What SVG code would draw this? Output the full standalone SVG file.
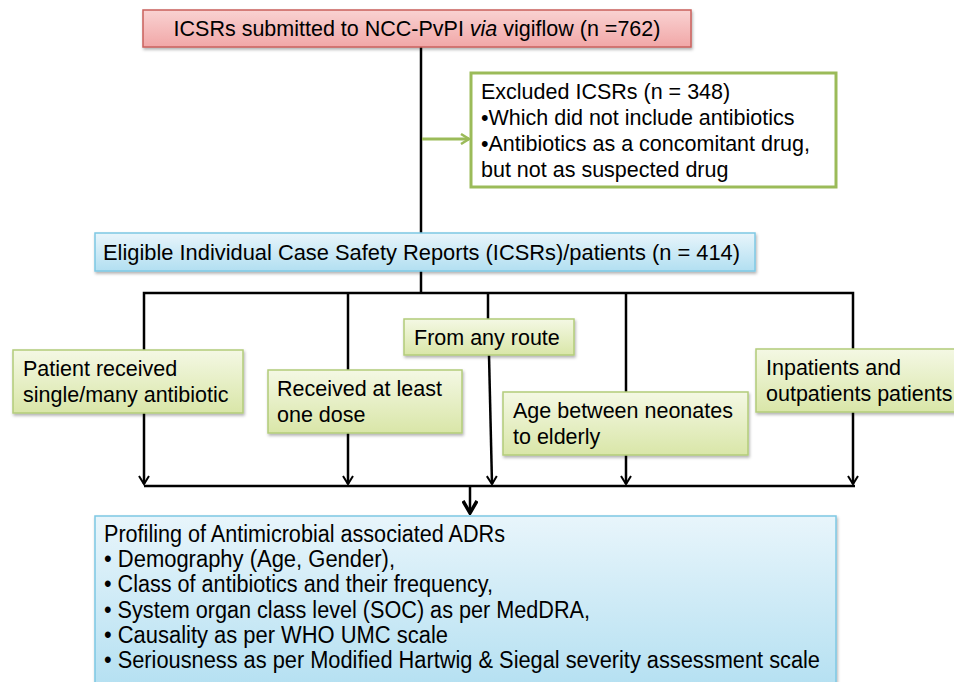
<svg xmlns="http://www.w3.org/2000/svg" width="954" height="682" viewBox="0 0 954 682">
<defs>
<linearGradient id="gPink" x1="0" y1="0" x2="0" y2="1"><stop offset="0" stop-color="#f9d2d2"/><stop offset="1" stop-color="#f1a7a7"/></linearGradient>
<linearGradient id="gGreen" x1="0" y1="0" x2="0" y2="1"><stop offset="0" stop-color="#f4f8e4"/><stop offset="1" stop-color="#d9e6a8"/></linearGradient>
<linearGradient id="gBlue" x1="0" y1="0" x2="0" y2="1"><stop offset="0" stop-color="#e8f5fb"/><stop offset="1" stop-color="#b2dff1"/></linearGradient>
<filter id="sh" x="-5%" y="-10%" width="110%" height="130%"><feDropShadow dx="1" dy="2" stdDeviation="1.5" flood-color="#000" flood-opacity="0.3"/></filter>
<marker id="ah" viewBox="0 0 12 12" refX="10" refY="6" markerWidth="12" markerHeight="12" markerUnits="userSpaceOnUse" orient="auto"><path d="M2,1 L10,6 L2,11" fill="none" stroke="#000" stroke-width="2"/></marker>
<marker id="ahBig" viewBox="0 0 16 16" refX="14" refY="8" markerWidth="16" markerHeight="16" markerUnits="userSpaceOnUse" orient="auto"><path d="M2,1 L14,8 L2,15" fill="none" stroke="#000" stroke-width="3.5"/></marker>
<marker id="ahG" viewBox="0 0 12 12" refX="10" refY="6" markerWidth="12" markerHeight="12" markerUnits="userSpaceOnUse" orient="auto"><path d="M2,1 L10,6 L2,11" fill="none" stroke="#9bbb59" stroke-width="2.5"/></marker>
</defs>
<style>
text{font-family:"Liberation Sans",Arial,sans-serif;font-size:21.5px;fill:#000}
.nar{font-size:23px}
.ln{fill:none;stroke:#000;stroke-width:2.5}
.pink{fill:url(#gPink);stroke:#c9605c;stroke-width:1.5}
.green{fill:url(#gGreen);stroke:#b3cc7a;stroke-width:1.5}
.blue{fill:url(#gBlue);stroke:#7ec8e3;stroke-width:1.5}
.excl{fill:#fff;stroke:#9bbb59;stroke-width:3}
</style>
<rect width="954" height="682" fill="#fff"/>
<g id="connectors">
<line class="ln" x1="421" y1="47" x2="421" y2="233"/>
<line x1="422" y1="139" x2="469" y2="139" stroke="#9bbb59" stroke-width="3" marker-end="url(#ahG)"/>
<line class="ln" x1="421" y1="271" x2="421" y2="293"/>
<polyline class="ln" points="144,350 144,293 853,293 853,349"/>
<line class="ln" x1="348" y1="293" x2="348" y2="370"/>
<line class="ln" x1="488" y1="293" x2="488" y2="319"/>
<line class="ln" x1="626" y1="293" x2="626" y2="392"/>
<line class="ln" x1="144" y1="413" x2="144" y2="484" marker-end="url(#ah)"/>
<line class="ln" x1="348" y1="433" x2="348" y2="484" marker-end="url(#ah)"/>
<line class="ln" x1="489" y1="355" x2="492" y2="484" marker-end="url(#ah)"/>
<line class="ln" x1="626" y1="455" x2="626" y2="484" marker-end="url(#ah)"/>
<line class="ln" x1="853" y1="412" x2="853" y2="484" marker-end="url(#ah)"/>
<line class="ln" x1="144" y1="486" x2="855" y2="486"/>
<line class="ln" x1="470" y1="486" x2="470" y2="513" stroke-width="3.5" marker-end="url(#ahBig)"/>
</g>
<g id="n-submitted">
<rect class="pink" x="143" y="10" width="548" height="37" filter="url(#sh)"/>
<text x="417" y="36" text-anchor="middle">ICSRs submitted  to NCC-PvPI <tspan font-style="italic">via</tspan> vigiflow (n =762)</text>
</g>
<g id="n-excluded">
<rect class="excl" x="471" y="73" width="365" height="114"/>
<text x="481" y="99">Excluded  ICSRs (n = 348)</text>
<text x="481" y="125">•Which did not include  antibiotics</text>
<text x="481" y="151">•Antibiotics as a concomitant drug,</text>
<text x="481" y="177">but not as suspected drug</text>
</g>
<g id="n-eligible">
<rect class="blue" x="95" y="233" width="660" height="38" filter="url(#sh)"/>
<text x="103" y="260" textLength="637" lengthAdjust="spacingAndGlyphs">Eligible  Individual  Case Safety Reports (ICSRs)/patients (n = 414)</text>
</g>
<g id="n-single">
<rect class="green" x="13" y="350" width="230" height="63" filter="url(#sh)"/>
<text x="23" y="376">Patient received</text>
<text x="23" y="402">single/many  antibiotic</text>
</g>
<g id="n-dose">
<rect class="green" x="268" y="370" width="194" height="63" filter="url(#sh)"/>
<text x="277" y="396">Received at least</text>
<text x="277" y="422">one dose</text>
</g>
<g id="n-route">
<rect class="green" x="404" y="319" width="170" height="36" filter="url(#sh)"/>
<text x="414" y="345">From any route</text>
</g>
<g id="n-age">
<rect class="green" x="503" y="392" width="245" height="63" filter="url(#sh)"/>
<text x="513" y="418">Age between neonates</text>
<text x="513" y="444">to elderly</text>
</g>
<g id="n-inpatients">
<rect class="green" x="756" y="349" width="210" height="63" filter="url(#sh)"/>
<text x="766" y="375">Inpatients and</text>
<text x="766" y="401">outpatients patients</text>
</g>
<g id="n-profiling">
<rect class="blue" x="95" y="516" width="741" height="180" filter="url(#sh)"/>
<text class="nar" x="104" y="542" textLength="401" lengthAdjust="spacingAndGlyphs">Profiling of Antimicrobial  associated ADRs</text>
<text class="nar" x="104" y="567" textLength="291" lengthAdjust="spacingAndGlyphs">• Demography  (Age, Gender),</text>
<text class="nar" x="104" y="592" textLength="389" lengthAdjust="spacingAndGlyphs">• Class of antibiotics and their frequency,</text>
<text class="nar" x="104" y="618" textLength="486" lengthAdjust="spacingAndGlyphs">• System organ class level (SOC) as per MedDRA,</text>
<text class="nar" x="104" y="643" textLength="344" lengthAdjust="spacingAndGlyphs">• Causality as per WHO UMC  scale</text>
<text class="nar" x="104" y="668" textLength="716" lengthAdjust="spacingAndGlyphs">• Seriousness as per Modified  Hartwig &amp; Siegal severity assessment scale</text>
</g>
</svg>
